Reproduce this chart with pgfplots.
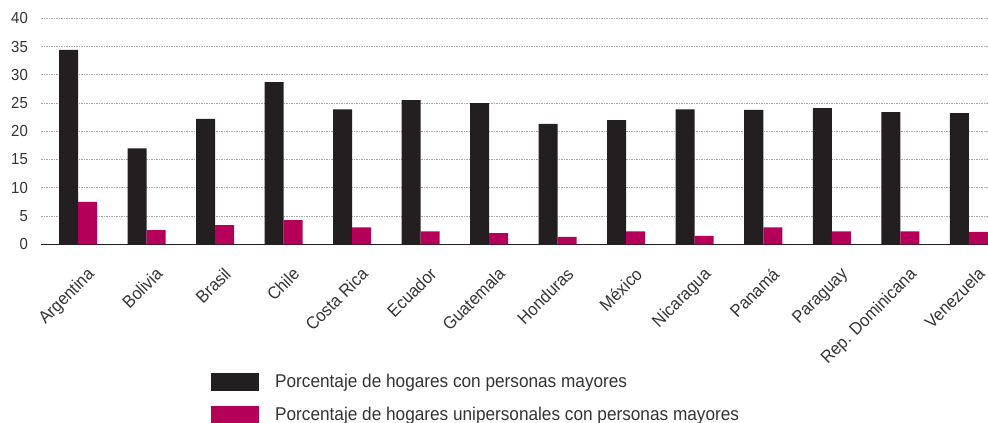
\documentclass[border=0pt]{standalone}
\usepackage{fontspec}
\setmainfont{Liberation Sans}[FakeStretch=0.93]
\usepackage{pgfplots}
\pgfplotsset{compat=1.18}
\definecolor{barblack}{HTML}{231F20}
\definecolor{barpink}{HTML}{B5005A}
\definecolor{txt}{HTML}{333333}
\begin{document}
\begin{tikzpicture}
\begin{axis}[
  scale only axis, width=947pt, height=226pt,
  ybar=0pt, bar width=19pt,
  xmin=-0.54, xmax=13.28, ymin=0, ymax=40,
  ytick={0,5,...,40},
  xtick=data,
  xticklabels={Argentina,Bolivia,Brasil,Chile,Costa Rica,Ecuador,Guatemala,Honduras,México,Nicaragua,Panamá,Paraguay,Rep. Dominicana,Venezuela},
  axis x line*=bottom, axis y line*=left,
  x axis line style={draw=barblack, line width=1.4pt},
  y axis line style={draw=none},
  major tick length=0pt, tick style={draw=none},
  ymajorgrids, grid style={draw=gray!70, line width=0.8pt, dash pattern=on 1.5pt off 1pt},
  /pgf/number format/assume math mode=true,
  tick label style={font=\fontsize{16}{18}\selectfont, text=txt},
  yticklabel style={inner sep=0pt, xshift=-13pt},
  xticklabel style={font=\fontsize{17.5}{20}\selectfont, inner sep=0pt, anchor=north east, xshift=8pt, yshift=-22pt, rotate=45},
  legend image code/.code={\fill[#1] (0pt,-9pt) rectangle (48pt,9pt);},
  legend style={draw=none, fill=none, at={(170pt,-128pt)}, anchor=north west, inner sep=0pt,
    font=\fontsize{18.5}{21}\selectfont, text=txt, row sep=15pt,
    nodes={inner sep=0pt},
    /tikz/every odd column/.append style={column sep=16pt}},
  legend cell align=left,
]
\addplot[fill=barblack, draw=none] coordinates {
  (0,34.4) (1,17.0) (2,22.2) (3,28.7) (4,23.9) (5,25.5) (6,25.0)
  (7,21.3) (8,22.0) (9,23.9) (10,23.8) (11,24.1) (12,23.4) (13,23.2)};
\addplot[fill=barpink, draw=none] coordinates {
  (0,7.5) (1,2.5) (2,3.4) (3,4.3) (4,3.0) (5,2.3) (6,2.0)
  (7,1.3) (8,2.3) (9,1.5) (10,3.0) (11,2.3) (12,2.3) (13,2.2)};
\legend{Porcentaje de hogares con personas mayores,Porcentaje de hogares unipersonales con personas mayores}
\end{axis}
\pgfresetboundingbox
\path (-41pt,-178.7pt) rectangle (947pt,244.3pt);
\end{tikzpicture}
\end{document}
